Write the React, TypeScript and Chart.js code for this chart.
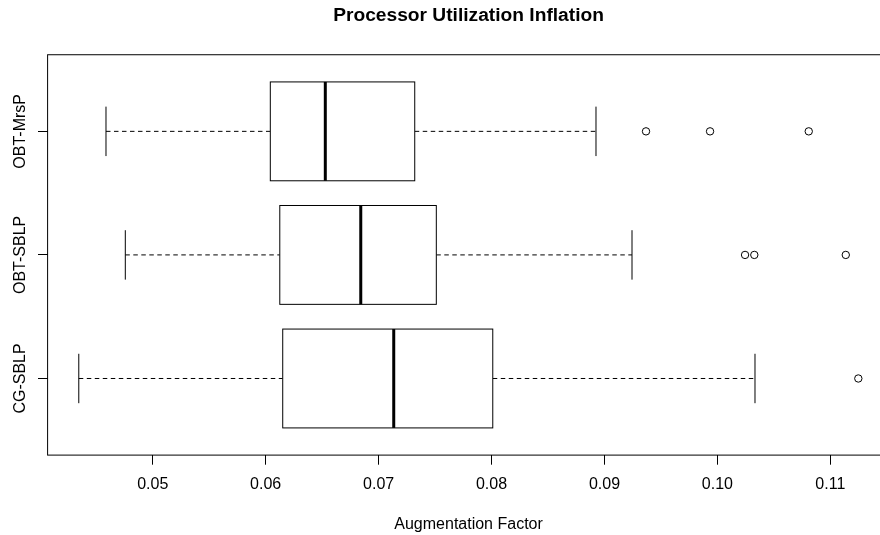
import React, { useEffect, useRef } from "react";
import { Chart, registerables } from "chart.js";

Chart.register(...registerables);

// ---- data ----
const chartTitle = "Processor Utilization Inflation";
const xAxisTitle = "Augmentation Factor";
// categories from bottom (y = 1) to top (y = 3)
const categories = ["CG-SBLP", "OBT-SBLP", "OBT-MrsP"];
const whiskerLow = [0.04345, 0.04757, 0.04586];
const quartile1 = [0.06151, 0.06125, 0.06041];
const medians = [0.07134, 0.06842, 0.06528];
const quartile3 = [0.08011, 0.07511, 0.0732];
const whiskerHigh = [0.10333, 0.09244, 0.08925];
const outliersCG = [0.11248];
const outliersOBTSBLP = [0.10245, 0.10327, 0.11137];
const outliersOBTMrsP = [0.09368, 0.09935, 0.10809];
const xTickValues = [0.05, 0.06, 0.07, 0.08, 0.09, 0.1, 0.11];

const outlierGroups = [outliersCG, outliersOBTSBLP, outliersOBTMrsP];

const FONT = "'Liberation Sans', Arial, Helvetica, sans-serif";

const allValues = [
  ...whiskerLow,
  ...whiskerHigh,
  ...outlierGroups.flat(),
];
const dataMin = Math.min(...allValues);
const dataMax = Math.max(...allValues);
const ext = (dataMax - dataMin) * 0.04;
const xMin = dataMin - ext;
const xMax = dataMax + ext;
const yMin = 0.5 - 3 * 0.04;
const yMax = 3.5 + 3 * 0.04;

const boxPlugin = {
  id: "rBoxplot",
  afterDatasetsDraw(chart: any) {
    const { ctx, chartArea, scales } = chart;
    const x = scales.x;
    const y = scales.y;
    ctx.save();
    ctx.strokeStyle = "#000";
    const line = (x1: number, y1: number, x2: number, y2: number) => {
      ctx.beginPath();
      ctx.moveTo(x1, y1);
      ctx.lineTo(x2, y2);
      ctx.stroke();
    };
    categories.forEach((_c, i) => {
      const pos = i + 1;
      const yc = y.getPixelForValue(pos);
      const half = Math.abs(y.getPixelForValue(pos + 0.4) - yc);
      const capHalf = half / 2;
      const pLo = x.getPixelForValue(whiskerLow[i]);
      const pQ1 = x.getPixelForValue(quartile1[i]);
      const pMed = x.getPixelForValue(medians[i]);
      const pQ3 = x.getPixelForValue(quartile3[i]);
      const pHi = x.getPixelForValue(whiskerHigh[i]);
      // dashed whiskers
      ctx.lineWidth = 1;
      ctx.setLineDash([4.5, 3.5]);
      line(pLo, yc, pQ1, yc);
      line(pQ3, yc, pHi, yc);
      ctx.setLineDash([]);
      // staples
      line(pLo, yc - capHalf, pLo, yc + capHalf);
      line(pHi, yc - capHalf, pHi, yc + capHalf);
      // box
      ctx.fillStyle = "#fff";
      ctx.fillRect(pQ1, yc - half, pQ3 - pQ1, 2 * half);
      ctx.strokeRect(pQ1, yc - half, pQ3 - pQ1, 2 * half);
      // median
      ctx.lineWidth = 3;
      line(pMed, yc - half, pMed, yc + half);
    });
    // frame
    ctx.lineWidth = 1;
    ctx.strokeRect(chartArea.left, chartArea.top, chartArea.right - chartArea.left, chartArea.bottom - chartArea.top);
    // y category labels (rotated)
    ctx.fillStyle = "#000";
    ctx.font = `16px ${FONT}`;
    ctx.textAlign = "center";
    ctx.textBaseline = "alphabetic";
    categories.forEach((c, i) => {
      const yc = y.getPixelForValue(i + 1);
      ctx.save();
      ctx.translate(chartArea.left - 22.6, yc);
      ctx.rotate(-Math.PI / 2);
      ctx.fillText(c, 0, 0);
      ctx.restore();
    });
    ctx.restore();
  },
};

export default function App() {
  const canvasRef = useRef<HTMLCanvasElement | null>(null);

  useEffect(() => {
    if (!canvasRef.current) return;
    const outlierPoints = outlierGroups.flatMap((g, i) =>
      g.map((v) => ({ x: v, y: i + 1 }))
    );
    const chart = new Chart(canvasRef.current, {
      type: "scatter",
      data: {
        datasets: [
          {
            label: "outliers",
            data: outlierPoints,
            pointStyle: "circle",
            pointRadius: 3.7,
            pointBorderWidth: 1,
            borderColor: "#000",
            backgroundColor: "rgba(0,0,0,0)",
          },
        ],
      },
      options: {
        responsive: false,
        animation: false,
        devicePixelRatio: 1,
        layout: { padding: { left: 38, right: 10.5, top: 0, bottom: 0 } },
        plugins: {
          legend: { display: false },
          tooltip: { enabled: false },
          title: {
            display: true,
            text: chartTitle,
            fullSize: false,
            color: "#000",
            font: { family: FONT, size: 19.2, weight: "bold", lineHeight: 1.2 },
            padding: { top: 4.5, bottom: 27.2 },
          },
        },
        scales: {
          x: {
            type: "linear",
            position: "bottom",
            min: xMin,
            max: xMax,
            border: { display: false },
            grid: {
              drawOnChartArea: false,
              drawTicks: true,
              tickLength: 9.6,
              color: "#000",
              lineWidth: 1,
            },
            ticks: {
              color: "#000",
              font: { family: FONT, size: 16, lineHeight: 1.2 },
              padding: 9.8,
              autoSkip: false,
              maxRotation: 0,
              minRotation: 0,
              callback: (v: any) => Number(v).toFixed(2),
            },
            afterBuildTicks: (s: any) => {
              s.ticks = xTickValues.map((v) => ({ value: v }));
            },
            title: {
              display: true,
              text: xAxisTitle,
              color: "#000",
              font: { family: FONT, size: 16, lineHeight: 1.2 },
              padding: { top: 11.3, bottom: 1 },
            },
          },
          y: {
            type: "linear",
            position: "left",
            min: yMin,
            max: yMax,
            border: { display: false },
            grid: {
              drawOnChartArea: false,
              drawTicks: true,
              tickLength: 9.6,
              color: "#000",
              lineWidth: 1,
            },
            ticks: { display: false },
            afterBuildTicks: (s: any) => {
              s.ticks = categories.map((_c, i) => ({ value: i + 1 }));
            },
          },
        },
      },
      plugins: [boxPlugin],
    });
    return () => chart.destroy();
  }, []);

  return (
    <div
      style={{
        position: "fixed",
        left: 0,
        top: 0,
        width: 880,
        height: 535,
        overflow: "hidden",
        background: "#fff",
      }}
    >
      <canvas
        ref={canvasRef}
        width={900}
        height={535}
        style={{ width: 900, height: 535, display: "block" }}
      />
    </div>
  );
}
